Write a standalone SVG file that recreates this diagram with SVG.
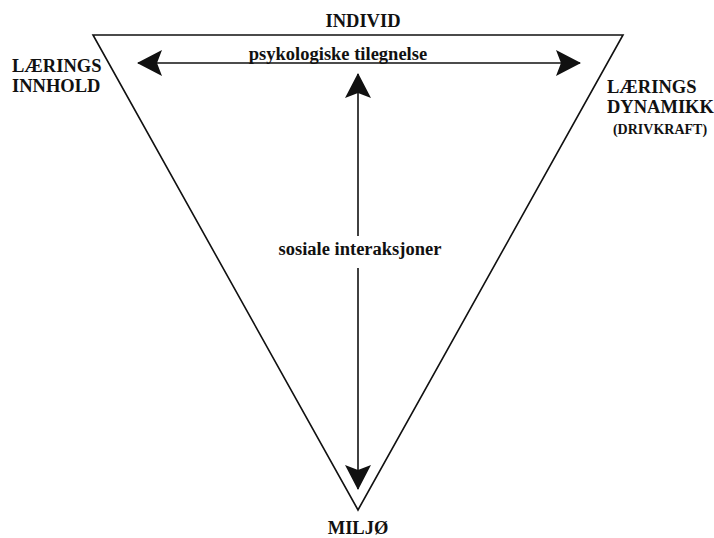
<svg xmlns="http://www.w3.org/2000/svg" width="714" height="538" viewBox="0 0 714 538">
<style>
.t{font-family:"Liberation Serif","Times New Roman",serif;font-weight:bold;fill:#111;font-size:18.5px;}
.l{stroke:#111;stroke-width:1.6;fill:none;}
</style>
<defs>
<marker id="ah" viewBox="0 0 25 26" refX="24" refY="13" markerWidth="25" markerHeight="26" markerUnits="userSpaceOnUse" orient="auto-start-reverse">
<path d="M0,0 L25,13 L0,26 L5,13 Z" fill="#111"/>
</marker>
</defs>
<rect width="714" height="538" fill="#fff"/>
<g id="triangle">
<polygon class="l" points="93,35 623,35 358,510"/>
</g>
<g id="connectors">
<line class="l" x1="138" y1="63" x2="580" y2="63" marker-start="url(#ah)" marker-end="url(#ah)"/>
<line class="l" x1="358" y1="74" x2="358" y2="236" marker-start="url(#ah)"/>
<line class="l" x1="358" y1="268" x2="358" y2="489" marker-end="url(#ah)"/>
</g>
<g id="individ"><text class="t" x="363" y="27" text-anchor="middle">INDIVID</text></g>
<g id="psyk"><text class="t" x="338" y="60" text-anchor="middle">psykologiske tilegnelse</text></g>
<g id="sosiale"><text class="t" x="360" y="255" text-anchor="middle">sosiale interaksjoner</text></g>
<g id="miljo"><text class="t" x="358" y="534" text-anchor="middle">MILJØ</text></g>
<g id="innhold">
<text class="t" x="12" y="72">LÆRINGS</text>
<text class="t" x="12" y="92">INNHOLD</text>
</g>
<g id="dynamikk">
<text class="t" x="607" y="93">LÆRINGS</text>
<text class="t" x="607" y="113">DYNAMIKK</text>
<text class="t" x="660" y="134" text-anchor="middle" style="font-size:14px">(DRIVKRAFT)</text>
</g>
</svg>
